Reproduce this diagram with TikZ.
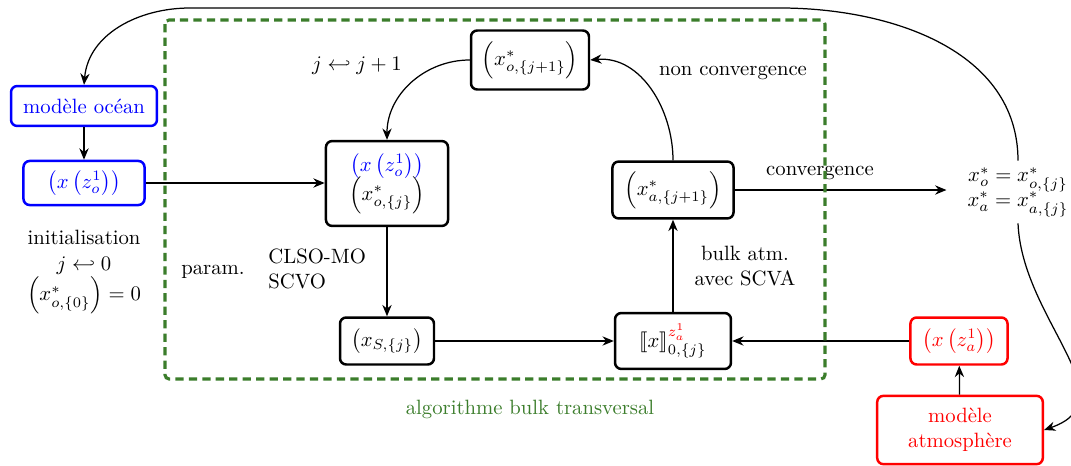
\documentclass[tikz,border=0pt]{standalone}
\usepackage{amsmath,amssymb}
\usepackage{stmaryrd}
\usetikzlibrary{arrows.meta}
\definecolor{algogreen}{rgb}{0.23,0.49,0.17}
\begin{document}
\begin{tikzpicture}[x=0.4831pt,y=-0.4831pt,
  box/.style={draw, very thick, rounded corners=3pt, align=center, inner sep=1pt},
  bluebox/.style={box, blue},
  redbox/.style={box, red},
  conn/.style={semithick, -{Stealth[length=5.5pt,width=4.5pt,inset=1.8pt]}},
  lbl/.style={align=center, inner sep=1pt}]
\useasboundingbox (0,0) rectangle (1071,466);

% nodes
\node[bluebox, minimum width=70.5pt, minimum height=19.3pt] (ocean) at (84,106) {mod\`ele oc\'ean};
\node[bluebox, minimum width=58.5pt, minimum height=21.3pt] (xzo) at (84,183) {$\left(x\left(z_o^1\right)\right)$};
\node[lbl] (init) at (84,272) {initialisation\\[1pt] $j\hookleftarrow 0$\\ $\left(x^*_{o,\{0\}}\right)=0$};

\node[box, minimum width=57pt, minimum height=28.5pt] (oj1) at (530,60) {$\left(x^*_{o,\{j+1\}}\right)$};
\node[box, minimum width=59pt, minimum height=41pt] (B) at (387,183.5) {$\color{blue}\left(x\left(z_o^1\right)\right)$\\[-2pt] $\left(x^*_{o,\{j\}}\right)$};
\node[box, minimum width=58.5pt, minimum height=27.5pt] (aj1) at (673,190) {$\left(x^*_{a,\{j+1\}}\right)$};
\node[box, minimum width=45.4pt, minimum height=22.7pt] (xS) at (387,341) {$\left(x_{S,\{j\}}\right)$};
\node[box, minimum width=56pt, minimum height=27pt] (brk) at (673,341) {$\llbracket x\rrbracket_{0,\{j\}}^{\textcolor{red}{z_a^1}}$};
\node[redbox, minimum width=46.9pt, minimum height=22.7pt] (xza) at (959,341) {$\left(x\left(z_a^1\right)\right)$};
\node[redbox, minimum width=80pt, minimum height=33pt] (atm) at (960,430) {mod\`ele\\ atmosph\`ere};

\node[lbl, inner sep=3pt] (res) at (1018,192) {$x_o^*=x_{o,\{j\}}^*$\\ $x_a^*=x_{a,\{j\}}^*$};

% labels
\node[lbl] (ljj) at (357,66) {$j\hookleftarrow j+1$};
\node[lbl] (lnc) at (733,73) {non convergence};
\node[lbl] (lc) at (820,173) {convergence};
\node[lbl] (lbulk) at (745,266) {bulk atm.\\ avec SCVA};
\node[lbl] (lpar) at (213,272) {param.};
\node[lbl, align=left, anchor=west, inner sep=0pt] (lclso) at (268,269) {CLSO-MO\\ SCVO};
\node[lbl, text=algogreen] (lalgo) at (530,409) {algorithme bulk transversal};

% connectors
\draw[conn] (ocean) -- (xzo);
\draw[conn] (xzo.east) -- (xzo.east -| B.west);
\draw[conn] (B) -- (xS);
\draw[conn] (xS) -- (brk);
\draw[conn] (xza) -- (brk);
\draw[conn] (atm) -- (xza);
\draw[conn] (brk) -- (aj1);
\draw[conn, shorten >=7pt] (aj1.east) -- (aj1.east -| res.west);
\draw[conn] (aj1.north) to[out=90,in=5] (oj1.east);
\draw[conn] (oj1.west) to[out=180,in=90] (B.north);
\draw[conn] (res.north) to[out=90,in=0] (780,8) -- (190,8) to[out=180,in=85] (ocean.north);
\draw[conn] (res.south) .. controls (1022,320) and (1130,400) .. (atm.east);

% algorithm frame
\draw[algogreen, line width=1.5pt, dash pattern=on 4pt off 2.5pt, rounded corners=2pt] (165,20) rectangle (825,379);
\end{tikzpicture}
\end{document}
